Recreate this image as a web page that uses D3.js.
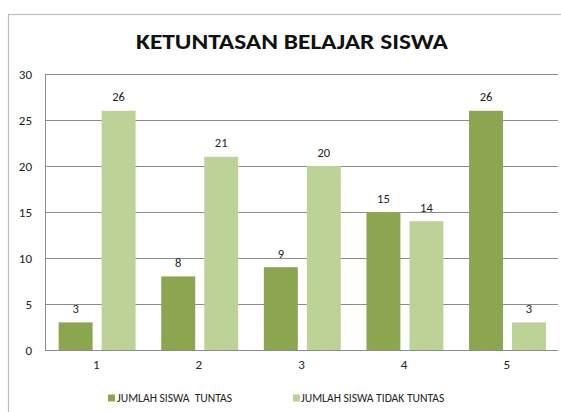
<!DOCTYPE html>
<html>
<head>
<meta charset="utf-8">
<script src="https://cdn.jsdelivr.net/npm/d3@7"></script>
<style>
  html, body { margin: 0; padding: 0; background: #fff; }
  svg { display: block; }
  text { font-family: Carlito, Calibri, "Open Sans", sans-serif; }
</style>
</head>
<body>
<svg id="chart" width="561" height="412"></svg>
<script>
const categories = ["1", "2", "3", "4", "5"];
const seriesNames = ["JUMLAH SISWA  TUNTAS", "JUMLAH SISWA TIDAK TUNTAS"];
const tuntas = [3, 8, 9, 15, 26];
const tidakTuntas = [26, 21, 20, 14, 3];
const yTicks = [0, 5, 10, 15, 20, 25, 30];
const title = "KETUNTASAN BELAJAR SISWA";
const colors = ["#8BA64E", "#BDD297"];

const svg = d3.select("#chart");
const W = 561, H = 412;
const plot = { left: 45, right: 558, top: 74, bottom: 350 };

// outer chart frame
svg.append("rect").attr("x", 8.5).attr("y", 14.5).attr("width", W).attr("height", H)
  .attr("fill", "#fff").attr("stroke", "#bdbdbd").attr("stroke-width", 1.2);

// title
const t = svg.append("text").attr("x", 292).attr("y", 49).attr("text-anchor", "middle")
  .attr("font-size", 22).attr("font-weight", "bold").attr("fill", "#111").text(title);
t.attr("textLength", 312).attr("lengthAdjust", "spacingAndGlyphs");

const y = d3.scaleLinear().domain([0, 30]).range([plot.bottom, plot.top]);
const x0 = d3.scaleBand().domain(categories).range([plot.left, plot.right]).paddingInner(0).paddingOuter(0);
const bw = x0.bandwidth();
const x1 = d3.scaleBand().domain([0, 1]).range([bw * 0.133, bw * 0.883]).paddingInner(0.21).paddingOuter(0);

// gridlines
svg.append("g").selectAll("line").data(yTicks.filter(d => d > 0)).join("line")
  .attr("x1", plot.left).attr("x2", plot.right)
  .attr("y1", d => Math.round(y(d)) + 0.5).attr("y2", d => Math.round(y(d)) + 0.5)
  .attr("stroke", "#8c8c8c").attr("stroke-width", 1);

// y axis
const yAxis = svg.append("g").attr("transform", `translate(${plot.left},0)`)
  .call(d3.axisLeft(y).tickValues(yTicks).tickSize(0).tickPadding(13));
yAxis.select(".domain").attr("stroke", "#8c8c8c");
yAxis.selectAll("text").attr("font-size", 13).attr("fill", "#222");

// bars
const data = categories.map((c, i) => ({ c, vals: [tuntas[i], tidakTuntas[i]] }));
const groups = svg.append("g").selectAll("g").data(data).join("g")
  .attr("transform", d => `translate(${x0(d.c)},0)`);
groups.selectAll("rect").data(d => d.vals.map((v, k) => ({ v, k }))).join("rect")
  .attr("x", d => x1(d.k)).attr("width", x1.bandwidth())
  .attr("y", d => y(d.v)).attr("height", d => y(0) - y(d.v))
  .attr("fill", d => colors[d.k]);
groups.selectAll("text").data(d => d.vals.map((v, k) => ({ v, k }))).join("text")
  .attr("x", d => x1(d.k) + x1.bandwidth() / 2).attr("y", d => y(d.v) - 9.5)
  .attr("text-anchor", "middle").attr("font-size", 12.5).attr("fill", "#222").text(d => d.v);

// x axis
const xAxis = svg.append("g").attr("transform", `translate(0,${plot.bottom})`)
  .call(d3.axisBottom(x0).tickSize(0).tickPadding(10));
xAxis.select(".domain").attr("stroke", "#8c8c8c").attr("d", `M${plot.left},0.5H${plot.right}`);
xAxis.selectAll("text").attr("font-size", 13).attr("fill", "#222");

// legend
const legendPos = [{ sq: 108, tx: 117 }, { sq: 293, tx: 301 }];
const lg = svg.append("g").selectAll("g").data(seriesNames).join("g");
lg.append("rect").attr("x", (d, i) => legendPos[i].sq).attr("y", 394.5).attr("width", 7).attr("height", 7)
  .attr("fill", (d, i) => colors[i]);
lg.append("text").attr("x", (d, i) => legendPos[i].tx).attr("y", 402)
  .attr("font-size", 11.6).attr("fill", "#222").attr("xml:space", "preserve")
  .style("white-space", "pre").text(d => d);
</script>
</body>
</html>
